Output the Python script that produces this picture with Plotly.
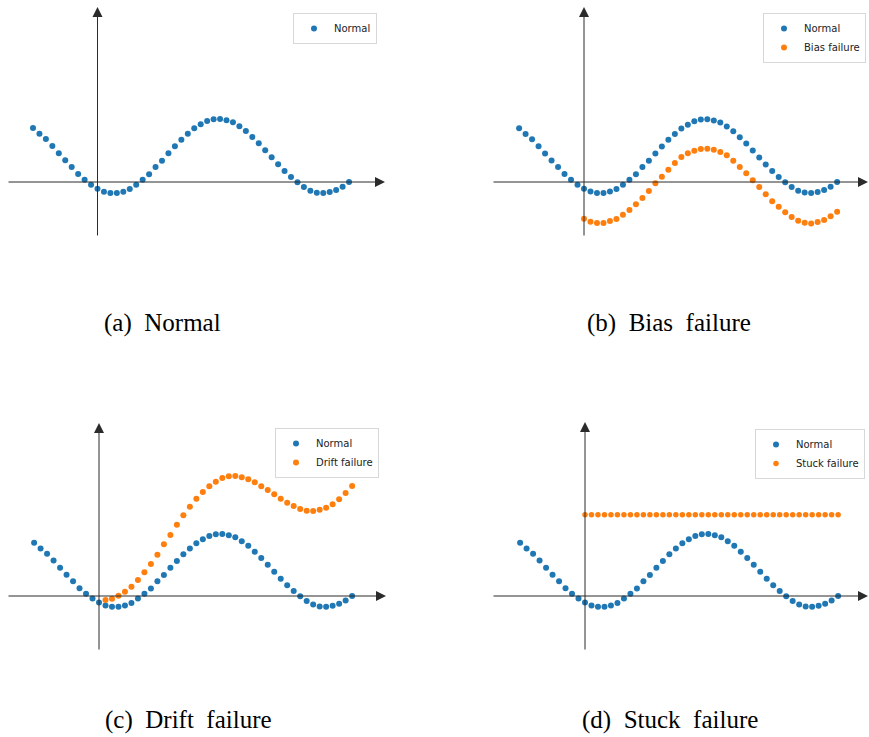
import plotly.graph_objects as go

# ---------------- data ----------------
normal_x = list(range(-10, 40))
normal_y = [0.857, 0.767, 0.683, 0.571, 0.455, 0.344, 0.238, 0.127, 0.037, -0.042,
            -0.106, -0.153, -0.175, -0.175, -0.153, -0.111, -0.042, 0.037, 0.122, 0.238,
            0.339, 0.455, 0.566, 0.672, 0.767, 0.852, 0.915, 0.968, 0.995, 1.000,
            0.979, 0.947, 0.884, 0.810, 0.714, 0.614, 0.503, 0.392, 0.280, 0.175,
            0.079, -0.005, -0.079, -0.138, -0.169, -0.175, -0.159, -0.127, -0.074, 0.000]

bias_x = list(range(0, 40))
bias_y = [-0.585, -0.633, -0.654, -0.654, -0.622, -0.590, -0.521, -0.447, -0.356, -0.255,
          -0.144, -0.021, 0.085, 0.197, 0.303, 0.399, 0.457, 0.500, 0.527, 0.532,
          0.516, 0.479, 0.426, 0.340, 0.239, 0.138, 0.027, -0.080, -0.197, -0.309,
          -0.394, -0.484, -0.559, -0.617, -0.649, -0.660, -0.638, -0.606, -0.548, -0.473]

drift_x = list(range(1, 40))
drift_y = [-0.065, -0.043, 0.005, 0.070, 0.151, 0.258, 0.382, 0.516, 0.667, 0.833,
           0.984, 1.151, 1.301, 1.441, 1.570, 1.677, 1.769, 1.844, 1.903, 1.930,
           1.935, 1.914, 1.882, 1.833, 1.769, 1.710, 1.640, 1.570, 1.505, 1.452,
           1.403, 1.376, 1.371, 1.392, 1.425, 1.478, 1.559, 1.661, 1.774]

stuck_x = list(range(0, 40))
stuck_y = [1.31] * 40

series_names = ["Normal", "Bias failure", "Drift failure", "Stuck failure"]
captions = ["(a)  Normal", "(b)  Bias  failure", "(c)  Drift  failure", "(d)  Stuck  failure"]

# ---------------- layout geometry (pixels) ----------------
W, H = 869, 737
BLUE, ORANGE = "#1f77b4", "#ff7f0e"
AXC = "#2b2b2b"

# box: left, right, top, bottom ; x0: pixel of x=0 ; dx: px per step ; y0: pixel of y=0 ; dy: px per unit
panels = [
    dict(left=7, right=385, tip=385, top=7, bottom=237, x0=97.5, dx=6.45, y0=182, dy=63.0,
         leg=(377, 13), cap=(102, 323)),
    dict(left=492, right=869, tip=870, top=7, bottom=237, x0=584, dx=6.49, y0=182, dy=62.7,
         leg=(866, 13), cap=(585, 323)),
    dict(left=7, right=386, tip=386, top=423, bottom=651, x0=99, dx=6.49, y0=596, dy=62.0,
         leg=(379, 428), cap=(103, 720)),
    dict(left=492, right=869, tip=870, top=422, bottom=651, x0=585, dx=6.49, y0=596, dy=62.0,
         leg=(865, 429), cap=(580, 720)),
]

fig = go.Figure()
failures = [None, (bias_x, bias_y), (drift_x, drift_y), (stuck_x, stuck_y)]

annotations = []
layout_upd = {}
for k, p in enumerate(panels):
    n = k + 1
    sfx = "" if n == 1 else str(n)
    xa, ya = "x" + sfx, "y" + sfx
    lg = "legend" + sfx
    fig.add_trace(go.Scatter(x=normal_x, y=normal_y, mode="markers", name="Normal",
                             marker=dict(color=BLUE, size=6), xaxis=xa, yaxis=ya,
                             legend=lg, showlegend=True))
    if failures[k] is not None:
        fx, fy = failures[k]
        fig.add_trace(go.Scatter(x=fx, y=fy, mode="markers", name=series_names[k],
                                 marker=dict(color=ORANGE, size=6 if k != 3 else 5.5),
                                 xaxis=xa, yaxis=ya, legend=lg, showlegend=True))
    xr = [(p["left"] - p["x0"]) / p["dx"], (p["right"] - p["x0"]) / p["dx"]]
    yr = [(p["y0"] - p["bottom"]) / p["dy"], (p["y0"] - p["top"]) / p["dy"]]
    ax_common = dict(showgrid=False, zeroline=False, showline=False, showticklabels=False,
                     ticks="", fixedrange=True)
    layout_upd["xaxis" + sfx] = dict(domain=[p["left"] / W, p["right"] / W], range=xr,
                                     anchor=ya, **ax_common)
    layout_upd["yaxis" + sfx] = dict(domain=[1 - p["bottom"] / H, 1 - p["top"] / H], range=yr,
                                     anchor=xa, **ax_common)
    layout_upd[lg] = dict(x=p["leg"][0] / W, y=1 - p["leg"][1] / H, xanchor="right",
                          yanchor="top", bgcolor="white", bordercolor="#d8d8d8", borderwidth=1,
                          font=dict(family="DejaVu Sans", size=10, color="#222"),
                          itemsizing="trace", tracegroupgap=0)
    # horizontal axis arrow
    annotations.append(dict(xref="paper", yref="paper", x=p["tip"] / W, y=1 - p["y0"] / H,
                            ax=-(p["tip"] - p["left"]), ay=0, text="", showarrow=True,
                            arrowhead=2, arrowsize=2.0, arrowwidth=1, arrowcolor=AXC,
                            standoff=0, startstandoff=0))
    # vertical axis arrow
    annotations.append(dict(xref="paper", yref="paper", x=p["x0"] / W, y=1 - p["top"] / H,
                            ax=0, ay=(p["bottom"] - p["top"]), text="", showarrow=True,
                            arrowhead=2, arrowsize=2.0, arrowwidth=1, arrowcolor=AXC,
                            standoff=0, startstandoff=0))
    # caption
    annotations.append(dict(xref="paper", yref="paper", x=p["cap"][0] / W, y=1 - p["cap"][1] / H,
                            xanchor="left", yanchor="middle", text=captions[k], showarrow=False,
                            font=dict(family="Liberation Serif", size=25, color="black")))

fig.update_layout(width=W, height=H, margin=dict(l=0, r=0, t=0, b=0),
                  paper_bgcolor="white", plot_bgcolor="rgba(0,0,0,0)",
                  annotations=annotations, **layout_upd)

fig.write_html("out.html")
